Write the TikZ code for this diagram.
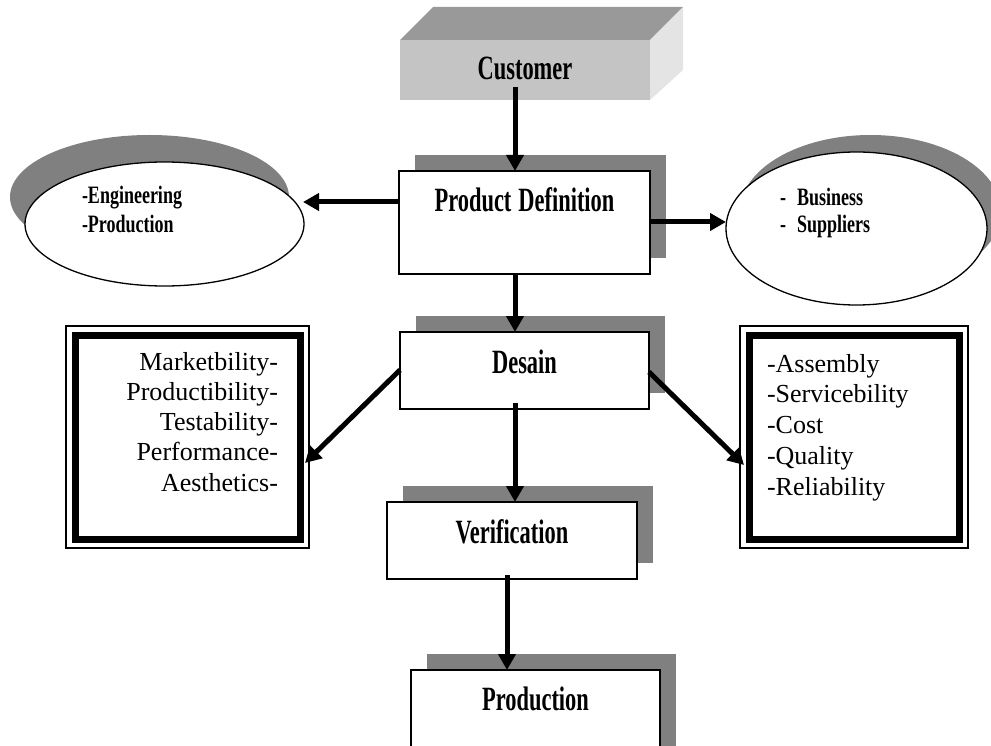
\documentclass[tikz,border=0pt]{standalone}
\usepackage{fontspec}
\setmainfont{Liberation Serif}
\newfontfamily\titlefont{Liberation Serif}[FakeStretch=0.66]
\newfontfamily\tagfont{Liberation Serif}[FakeStretch=0.72]
\usetikzlibrary{arrows.meta,shapes.geometric,shadows,calc}

\definecolor{shade}{HTML}{808080}
\definecolor{cubefront}{HTML}{C4C4C4}
\definecolor{cubetop}{HTML}{999999}
\definecolor{cubeside}{HTML}{E4E4E4}

\begin{document}
\begin{tikzpicture}[x=1pt,y=-1pt,
  every node/.style={inner sep=0pt,outer sep=0pt},
  title/.style={font={\titlefont\bfseries\fontsize{34}{34}\selectfont}},
  tag/.style={font={\tagfont\bfseries\fontsize{25}{25}\selectfont}},
  listtext/.style={font={\fontsize{26}{26}\selectfont}},
  stagebox/.style={draw=black,line width=1.5pt,fill=white,title,
    drop shadow={shadow xshift=16pt,shadow yshift=16pt,fill=shade,opacity=1}},
  bubble/.style={ellipse,draw=black,line width=1.3pt,fill=white},
  framebox/.style={draw=black,line width=1.3pt,fill=white},
  flow/.style={line width=5pt,-{Triangle[width=17pt,length=16pt]}}
]
\useasboundingbox (0,0) rectangle (991,746);

% customer block drawn as a 3D slab
\node[title,fill=cubefront,minimum width=250pt,text height=40pt,text depth=20pt]
  (cust) at (525,70) {Customer};
\fill[cubetop] (cust.north west) -- ++(33,-33) -- ++(250,0) -- (cust.north east) -- cycle;
\fill[cubeside] (cust.north east) -- ++(33,-33) -- ++(0,63) -- (cust.south east) -- cycle;

% side bubbles
\node[bubble,minimum width=279pt,minimum height=124pt,
  drop shadow={shadow xshift=-15pt,shadow yshift=27pt,fill=shade,opacity=1}]
  (le) at (164.5,224) {};
\node[tag,anchor=base west] (le1) at (82,204) {-Engineering};
\node[tag,anchor=base west] (le2) at (82,233) {-Production};

\node[bubble,minimum width=261pt,minimum height=153pt,
  drop shadow={shadow xshift=14pt,shadow yshift=17pt,fill=shade,opacity=1}]
  (re) at (856.5,228.5) {};
\node[tag,anchor=base west] (re1) at (780,206) {-\hspace{11pt}Business};
\node[tag,anchor=base west] (re2) at (780,233) {-\hspace{11pt}Suppliers};

% process stages
\node[stagebox,minimum width=251pt,text height=41pt,text depth=62pt]
  (pd) at (524.5,222.5) {Product\hspace{7pt}Definition};
\node[stagebox,minimum width=249pt,text height=41pt,text depth=36pt]
  (desain) at (524.5,370.5) {Desain};
\node[stagebox,minimum width=250pt,text height=41pt,text depth=36pt]
  (verif) at (512,540.5) {Verification};
\node[stagebox,minimum width=249pt,text height=40pt,text depth=70pt]
  (prod) at (535.5,725) {Production};

% criteria frames
\node[framebox,minimum width=243pt,minimum height=222pt] (lbox) at (187.5,437) {};
\draw[line width=7pt] ($(lbox.north west)+(9,9)$) rectangle ($(lbox.south east)+(-9,-9)$);
\foreach \t [count=\i] in {Marketbility-,Productibility-,Testability-,Performance-,Aesthetics-}
  \node[listtext,anchor=base east] (lt\i) at (278,{370+30.25*(\i-1)}) {\t};

\node[framebox,minimum width=228pt,minimum height=222pt] (rbox) at (854,437) {};
\draw[line width=7pt] ($(rbox.north west)+(9,9)$) rectangle ($(rbox.south east)+(-9,-9)$);
\foreach \t [count=\i] in {-Assembly,-Servicebility,-Cost,-Quality,-Reliability}
  \node[listtext,anchor=base west] (rt\i) at (767,{372+30.75*(\i-1)}) {\t};

% connectors
\coordinate (cust-out) at (515,87);
\coordinate (le-in) at (303,202);
\coordinate (lbox-in) at (305,463);
\coordinate (rbox-in) at (744,465);

\draw[flow] (cust-out) -- (cust-out |- pd.north);
\draw[flow] (pd.west |- 0,202) -- (le-in);
\draw[flow] (pd.east |- 0,222) -- (re.west |- 0,222);
\draw[flow] (pd.south -| 515,0) -- (desain.north -| 515,0);
\draw[flow] (desain.west |- 0,370) -- (lbox-in);
\draw[flow] (desain.east |- 0,372) -- (rbox-in);
\draw[flow] (515,403) -- (verif.north -| 515,0);
\draw[flow] (507,575) -- (prod.north -| 507,0);
\end{tikzpicture}
\end{document}
